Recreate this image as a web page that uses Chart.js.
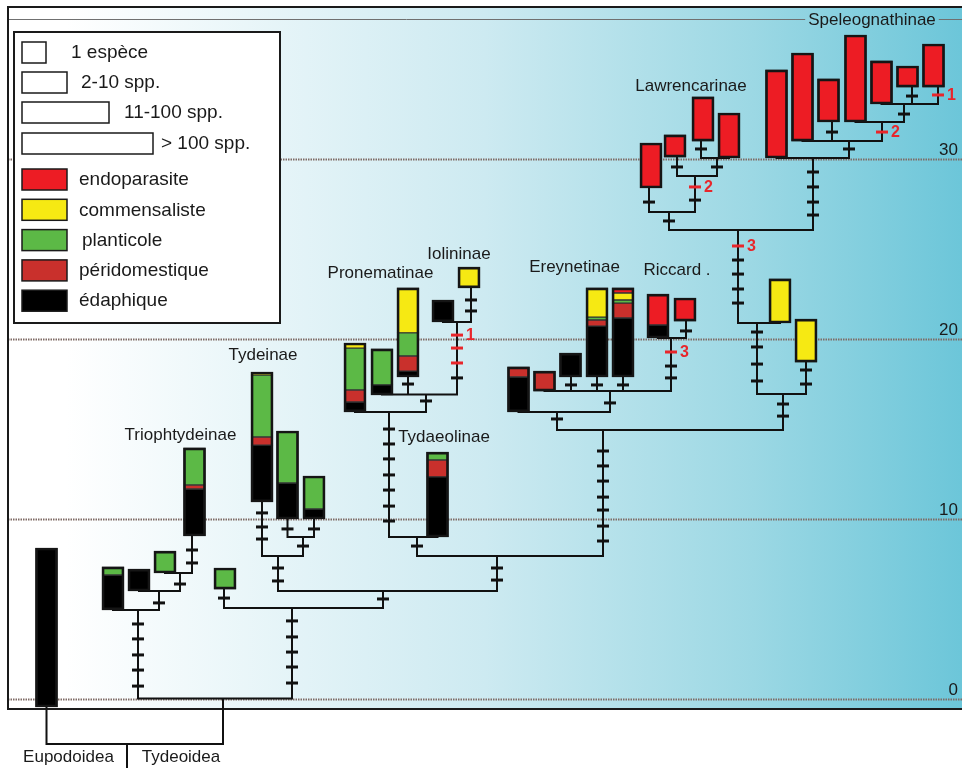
<!DOCTYPE html>
<html><head><meta charset="utf-8">
<script src="https://cdn.jsdelivr.net/npm/chart.js@4.4.1/dist/chart.umd.min.js"></script>
<style>html,body{margin:0;padding:0;background:#fff}#wrap{width:962px;height:768px}</style>
</head><body><div id="wrap"><canvas id="c" width="962" height="768"></canvas></div>
<script>
// ---------------- DATA ----------------
// terminal taxa (bars): horizontal position in the tree, base and top (time axis)
const barX    = [46.5,113,139,165,194.5,225,262,287.5,314,437.5,355,382,408,443,469,518.5,544.5,570.5,597,623,658,685,780,806,651,675,703,729,776.5,802.5,828.5,855.5,881.5,907.5,933.5];
const barLow  = [-0.47,4.92,5.97,6.97,9.03,6.08,10.92,9.97,9.97,8.97,15.92,16.86,17.86,20.92,22.81,15.92,17.08,17.86,17.86,17.86,20.03,20.97,20.86,18.69,28.36,30.08,30.97,30.03,30.03,30.97,32.03,32.03,33.03,33.97,33.97];
const barHigh = [8.36,7.31,7.19,8.19,13.92,7.25,18.14,14.86,12.36,13.69,19.75,19.42,22.81,22.14,23.97,18.42,18.19,19.19,22.81,22.81,22.47,22.25,23.31,21.08,30.86,31.31,33.42,32.53,34.92,35.86,34.42,36.86,35.42,35.14,36.36];

// ecological segments: [bar index, from, to]
const endoparasite = [[19,22.53,22.81],[20,20.75,22.47],[21,20.97,22.25],[24,28.36,30.86],[25,30.08,31.31],[26,30.97,33.42],[27,30.03,32.53],[28,30.03,34.92],[29,30.97,35.86],[30,32.03,34.42],[31,32.03,36.86],[32,33.03,35.42],[33,33.97,35.14],[34,33.97,36.36]];
const commensaliste = [[6,17.97,18.14],[10,19.47,19.75],[12,20.31,22.81],[14,22.81,23.97],[18,21.19,22.81],[19,22.14,22.53],[22,20.86,23.31],[23,18.69,21.08]];
const planticole = [[1,6.86,7.31],[3,6.97,8.19],[4,11.86,13.92],[5,6.08,7.25],[6,14.53,17.97],[7,11.97,14.86],[8,10.53,12.36],[9,13.25,13.69],[10,17.14,19.47],[11,17.42,19.42],[12,19.03,20.31],[18,21.03,21.19],[19,21.97,22.14]];
const peridomestique = [[4,11.64,11.86],[6,14.08,14.53],[9,12.31,13.25],[10,16.47,17.14],[12,18.19,19.03],[15,17.86,18.42],[16,17.08,18.19],[18,20.69,21.03],[19,21.14,21.97]];
const edaphique = [[0,-0.47,8.36],[1,4.92,6.86],[2,5.97,7.19],[4,9.03,11.64],[6,10.92,14.08],[7,9.97,11.97],[8,9.97,10.53],[9,8.97,12.31],[10,15.92,16.47],[11,16.86,17.42],[12,17.86,18.19],[13,20.92,22.14],[15,15.92,17.86],[17,17.86,19.19],[18,17.86,20.69],[19,17.86,21.14],[20,20.03,20.75]];

// tree branches: [x1, y1, x2, y2]
const branches = [
 [46.5,-0.5,46.5,-2.53],[46.5,-2.53,223,-2.53],[223,0,223,-2.53],[127,-2.53,127,-3.9],
 [138,0,292,0],
 [138,0,138,4.92],[113,4.92,159,4.92],[159,4.92,159,5.97],[139,5.97,180,5.97],[180,5.97,180,6.97],[165,6.97,192,6.97],[192,6.97,192,9.03],
 [292,0,292,5.03],[224,5.03,383,5.03],[224,5.03,224,6.08],[383,5.03,383,5.97],[278,5.97,497,5.97],[278,5.97,278,7.92],[262,7.92,303,7.92],[262,7.92,262,10.92],[303,7.92,303,8.97],[287.5,8.97,314,8.97],[287.5,8.97,287.5,9.97],[314,8.97,314,9.97],
 [497,5.97,497,7.92],[417,7.92,603,7.92],[417,7.92,417,8.97],[389,8.97,437.5,8.97],[389,8.97,389,15.92],[355,15.92,426,15.92],[426,15.92,426,16.89],[382,16.89,457,16.89],[408,16.89,408,17.86],[457,16.89,457,20.92],[443,20.92,471,20.92],[471,20.92,471,22.81],
 [603,7.92,603,14.92],[557,14.92,783,14.92],[557,14.92,557,15.92],[518.5,15.92,610,15.92],[610,15.92,610,17.08],[544.5,17.08,671,17.08],[571,17.08,571,17.86],[597,17.08,597,17.86],[623,17.08,623,17.86],[671,17.08,671,20.03],[658,20.03,686,20.03],[686,20.03,686,20.97],
 [783,14.92,783,16.92],[757,16.92,806,16.92],[806,16.92,806,18.69],[757,16.92,757,20.86],[738,20.86,780,20.86],[738,20.86,738,26.03],[669,26.03,813,26.03],[669,26.03,669,27.03],[649,27.03,695,27.03],[649,27.03,649,28.36],[695,27.03,695,29.03],[677,29.03,717,29.03],[677,29.03,677,30.08],[717,29.03,717,30.03],[701,30.03,729,30.03],[701,30.03,701,30.97],
 [813,26.03,813,30.03],[776.5,30.03,849,30.03],[849,30.03,849,30.97],[802.5,30.97,882,30.97],[832,30.97,832,32.03],[882,30.97,882,32.03],[855.5,32.03,904,32.03],[904,32.03,904,33.03],[881.5,33.03,938,33.03],[912,33.03,912,33.97],[938,33.03,938,33.97]
];

// character changes on branches: [x, y]
const changeTicks = [
 [138,4.14],[138,3.31],[138,2.42],[138,1.58],[138,0.69],
 [159,5.31],[180,6.36],[192,8.25],[192,7.53],[224,5.58],
 [292,4.31],[292,3.42],[292,2.58],[292,1.75],[292,0.86],
 [262,10.31],[262,9.53],[262,8.86],[287.5,9.42],[314,9.42],[303,8.47],[278,7.25],[278,6.53],[383,5.53],
 [497,7.25],[497,6.58],[417,8.47],
 [389,14.97],[389,14.14],[389,13.31],[389,12.42],[389,11.58],[389,10.69],[389,9.86],
 [603,13.75],[603,12.92],[603,12.08],[603,11.19],[603,10.47],[603,9.58],[603,8.75],
 [426,16.53],[408,17.47],[457,17.81],[471,22.14],[471,21.53],
 [571,17.42],[597,17.42],[623,17.42],
 [671,18.47],[671,17.81],[686,20.42],[610,16.42],[557,15.53],
 [783,16.36],[783,15.69],[757,20.36],[757,19.53],[757,18.58],[757,17.64],[806,18.25],[806,17.47],
 [738,24.36],[738,23.58],[738,22.75],[738,21.97],
 [669,26.53],[649,27.58],[695,27.69],
 [813,29.25],[813,28.42],[813,27.58],[813,26.86],
 [677,29.53],[701,30.53],[717,29.53],[849,30.53],[832,31.47],[904,32.47],[912,33.47]
];
// convergent changes (red): [x, y, label]
const convergentTicks = [[457,20.19,'1'],[457,19.47,''],[457,18.64,''],[671,19.25,'3'],[695,28.42,'2'],[738,25.14,'3'],[882,31.47,'2'],[938,33.53,'1']];

// clade names: [text, x, y]
const cladeLabels = [['Triophtydeinae',180.5,14.64],['Tydeinae',263,19.08],['Pronematinae',380.5,23.64],['Iolininae',459,24.69],['Tydaeolinae',444,14.53],['Ereynetinae',574.5,23.97],['Riccard .',677,23.81],['Lawrencarinae',691,34.03],['Speleognathinae',872,37.69]];
const superfamilies = [['Eupodoidea',68.5,-3.25],['Tydeoidea',181,-3.25]];
const axisTicks = [0,10,20,30];

const sizeLegend = ['1 espèce','2-10 spp.','11-100 spp.','> 100 spp.'];
const ecoLegend = ['endoparasite','commensaliste','planticole','péridomestique','édaphique'];

// ---------------- STYLE ----------------
const COLORS = {endoparasite:'#ed1c24', commensaliste:'#f6e913', planticole:'#5cb946', peridomestique:'#c9302c', edaphique:'#000000'};
const ecoColors = [COLORS.endoparasite, COLORS.commensaliste, COLORS.planticole, COLORS.peridomestique, COLORS.edaphique];
const FONT = '"Liberation Sans", Arial, Helvetica, sans-serif';
const FRAME = {left:8, top:38.42, bottom:-0.58, topRule:37.75};

// ---------------- BUILD ----------------
function segData(arr){ return arr.map(s => ({x: barX[s[0]], y: [s[1], s[2]]})); }
function lineData(arr){
  const out = [];
  arr.forEach(b => { out.push({x:b[0], y:b[1]}); out.push({x:b[2], y:b[3]}); out.push({x:b[2], y:null}); });
  return out;
}
const segStyle = {type:'bar', grouped:false, barThickness:22, borderWidth:1, borderColor:'rgba(25,25,25,0.85)', borderSkipped:false, order:4};

const datasets = [
  {type:'line', data: lineData(branches), borderColor:'#111', borderWidth:2, pointRadius:0, spanGaps:false, borderCapStyle:'square', order:5},
  Object.assign({label:'édaphique', data: segData(edaphique), backgroundColor: COLORS.edaphique}, segStyle),
  Object.assign({label:'péridomestique', data: segData(peridomestique), backgroundColor: COLORS.peridomestique}, segStyle),
  Object.assign({label:'planticole', data: segData(planticole), backgroundColor: COLORS.planticole}, segStyle),
  Object.assign({label:'commensaliste', data: segData(commensaliste), backgroundColor: COLORS.commensaliste}, segStyle),
  Object.assign({label:'endoparasite', data: segData(endoparasite), backgroundColor: COLORS.endoparasite}, segStyle),
  {type:'bar', data: barX.map((x,i)=>({x, y:[barLow[i], barHigh[i]]})), backgroundColor:'rgba(0,0,0,0)', borderColor:'#151515', borderWidth:2, borderSkipped:false, grouped:false, barThickness:22, order:3},
  {type:'line', data: changeTicks.map(t=>({x:t[0], y:t[1]})), showLine:false, pointStyle:'line', pointRadius:6, pointBorderWidth:3, pointBorderColor:'#111', order:1},
  {type:'line', data: convergentTicks.map(t=>({x:t[0], y:t[1]})), showLine:false, pointStyle:'line', pointRadius:6, pointBorderWidth:3, pointBorderColor:'#e8262b', order:1}
];

const backgroundPlugin = {
  id:'bgframe',
  beforeDatasetsDraw(chart){
    const {ctx, scales:{x, y}} = chart;
    const L = x.getPixelForValue(FRAME.left), R = chart.width;
    const T = y.getPixelForValue(FRAME.top), B = y.getPixelForValue(FRAME.bottom);
    ctx.save();
    const g = ctx.createLinearGradient(L, 0, R, 0);
    g.addColorStop(0, '#ffffff'); g.addColorStop(0.06, '#ffffff');
    g.addColorStop(0.5, '#cdeaf1'); g.addColorStop(0.78, '#9cd8e4'); g.addColorStop(1, '#6cc6d9');
    ctx.fillStyle = g; ctx.fillRect(L, T, R - L, B - T);
    // grid lines
    ctx.strokeStyle = '#7f6b65'; ctx.lineWidth = 1.8; ctx.setLineDash([1.5,1]);
    axisTicks.forEach(v => { const py = Math.round(y.getPixelForValue(v)) + 0.5; ctx.beginPath(); ctx.moveTo(L, py); ctx.lineTo(R, py); ctx.stroke(); });
    ctx.setLineDash([]);
    // top rule, interrupted by the Speleognathinae label
    const sp = cladeLabels[cladeLabels.length - 1];
    ctx.font = '17px ' + FONT;
    const w = ctx.measureText(sp[0]).width;
    const cx = x.getPixelForValue(sp[1]);
    const py = Math.round(y.getPixelForValue(FRAME.topRule)) + 0.5;
    ctx.strokeStyle = '#707070'; ctx.lineWidth = 1;
    ctx.beginPath(); ctx.moveTo(L, py); ctx.lineTo(cx - w/2 - 3, py); ctx.moveTo(cx + w/2 + 3, py); ctx.lineTo(R, py); ctx.stroke();
    // frame
    ctx.strokeStyle = '#1a1a1a'; ctx.lineWidth = 2;
    ctx.beginPath(); ctx.moveTo(L - 1, T); ctx.lineTo(R, T); ctx.moveTo(L, T); ctx.lineTo(L, B); ctx.lineTo(R, B); ctx.stroke();
    ctx.restore();
  },
  afterDatasetsDraw(chart){
    const {ctx, scales:{x, y}} = chart;
    ctx.save();
    ctx.textBaseline = 'middle';
    ctx.fillStyle = '#1a1a1a';
    ctx.font = '17px ' + FONT; ctx.textAlign = 'center';
    cladeLabels.forEach(l => ctx.fillText(l[0], x.getPixelForValue(l[1]), y.getPixelForValue(l[2])));
    superfamilies.forEach(l => ctx.fillText(l[0], x.getPixelForValue(l[1]), y.getPixelForValue(l[2])));
    // axis numbers on the right
    ctx.textAlign = 'right'; ctx.font = '17px ' + FONT;
    axisTicks.forEach(v => ctx.fillText(String(v), 958, y.getPixelForValue(v) - 8));
    // red numbers
    ctx.textAlign = 'left'; ctx.fillStyle = '#e8262b'; ctx.font = 'bold 16px ' + FONT;
    convergentTicks.forEach(t => { if (t[2]) ctx.fillText(t[2], x.getPixelForValue(t[0]) + 9, y.getPixelForValue(t[1]) + 1); });
    // legend box
    ctx.fillStyle = '#ffffff'; ctx.fillRect(14, 32, 266, 291);
    ctx.strokeStyle = '#1a1a1a'; ctx.lineWidth = 2; ctx.strokeRect(14, 32, 266, 291);
    ctx.font = '19px ' + FONT; ctx.lineWidth = 1.5;
    const sizeW = [24, 45, 87, 131], sizeY = [42, 72, 102, 133], sizeTx = [71, 81, 124, 161];
    sizeLegend.forEach((t, i) => {
      ctx.fillStyle = '#fff'; ctx.fillRect(22, sizeY[i], sizeW[i], 21);
      ctx.strokeStyle = '#1a1a1a'; ctx.strokeRect(22, sizeY[i], sizeW[i], 21);
      ctx.fillStyle = '#1a1a1a'; ctx.fillText(t, sizeTx[i], sizeY[i] + 11);
    });
    ecoLegend.forEach((t, i) => {
      const yy = 169 + i * 30.3;
      ctx.fillStyle = ecoColors[i]; ctx.fillRect(22, yy, 45, 21);
      ctx.strokeStyle = '#1a1a1a'; ctx.strokeRect(22, yy, 45, 21);
      ctx.fillStyle = '#1a1a1a'; ctx.fillText(t, i === 2 ? 82 : 79, yy + 11);
    });
    ctx.restore();
  }
};

new Chart(document.getElementById('c'), {
  type:'bar',
  data:{datasets},
  options:{
    responsive:false, animation:false, events:[],
    layout:{padding:0, autoPadding:false},
    plugins:{legend:{display:false}, tooltip:{enabled:false}},
    scales:{
      x:{type:'linear', min:0, max:962, display:false, offset:false, grid:{offset:false}},
      y:{type:'linear', min:-3.861, max:38.806, display:false}
    }
  },
  plugins:[backgroundPlugin]
});
</script></body></html>
